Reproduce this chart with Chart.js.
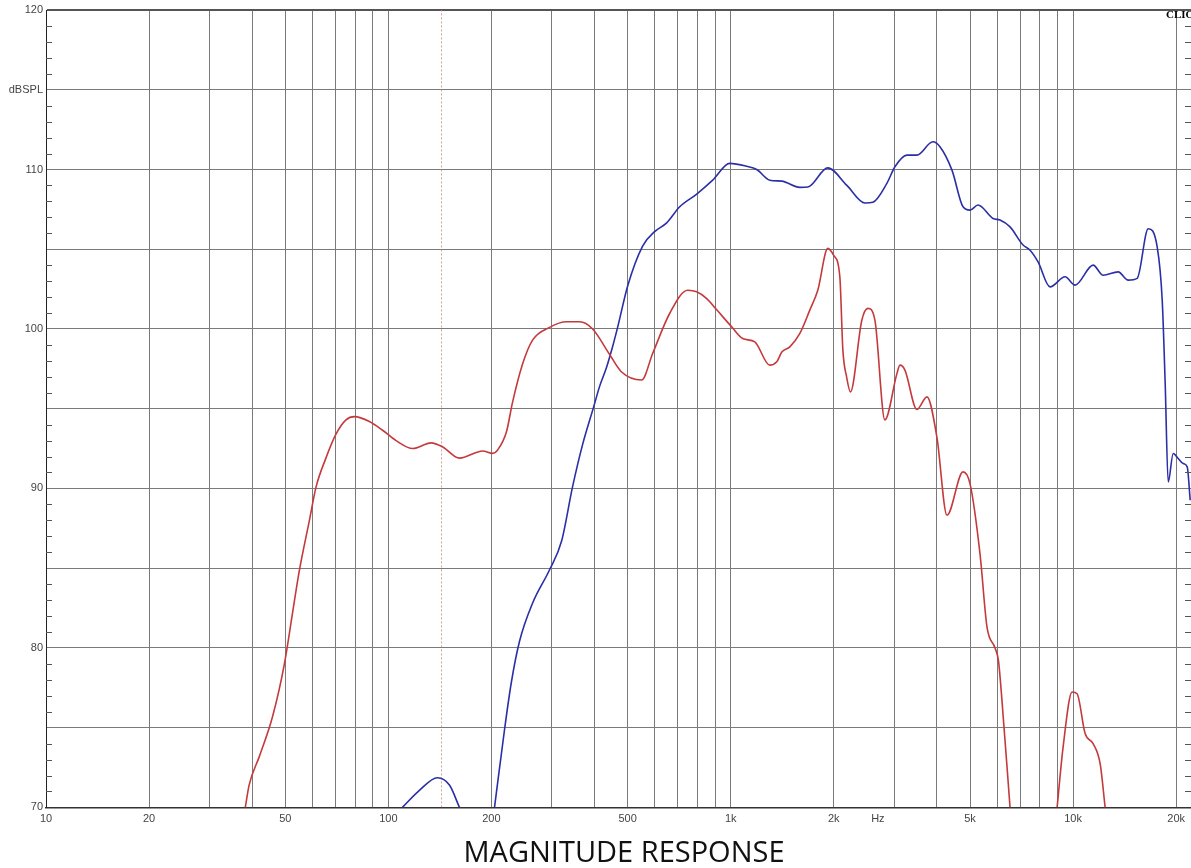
<!DOCTYPE html>
<html>
<head>
<meta charset="utf-8">
<title>Magnitude response</title>
<script src="https://cdn.jsdelivr.net/npm/chart.js@4.4.1/dist/chart.umd.min.js"></script>
<style>
  html, body { margin: 0; padding: 0; background: #fff; }
  #wrap { position: relative; width: 1191px; height: 868px; }
  #caption {
    position: absolute;
    left: 424px;
    width: 400px;
    top: 836px;
    text-align: center;
    font-family: "Open Sans", sans-serif;
    font-size: 29px;
    line-height: 29px;
    color: #111;
    white-space: nowrap;
  }
</style>
</head>
<body>
<div id="wrap">
  <canvas id="response" width="1191" height="868"></canvas>
  <div id="caption">MAGNITUDE RESPONSE</div>
</div>
<script>
// red trace (Hz / dBSPL); null = where it falls below the 70 dB floor
const redFreq = [38.2, 39.2, 42, 45.9, 49.7, 52.5, 54.9, 58.8, 61.5, 65.7, 70.3, 75.2, 79.6, 88, 96.2,
  105.3, 117.8, 133.3, 144.2, 161.3, 188.7, 201.8, 208.3, 221.3, 230.5, 246.6, 263.7, 295.7, 331.5,
  361.9, 395, 442.9, 480.1, 549.3, 591.5, 663.1, 748.7, 795.6, 850.9, 910.2, 1006.8, 1084, 1175.5,
  1300, 1363, 1410, 1488, 1592, 1702, 1796, 1921, 2001, 2083, 2126, 2180, 2237, 2415, 2516, 2637,
  2820, 3058, 3121, 3227, 3499, 3742, 4002, 4282, 4770, 4999, 5347, 5605, 5916, 6053, 6188, 6544,
  7500, 8981, 9350, 9933, 10273, 10842, 11443, 11995, 12406];
const redDb = [70, 71.4, 73.2, 75.7, 79.0, 82.2, 84.8, 88.0, 90.1, 91.9, 93.4, 94.3, 94.5, 94.2, 93.65,
  93.0, 92.5, 92.86, 92.6, 91.9, 92.35, 92.2, 92.4, 93.55, 95.4, 97.8, 99.3, 100.1, 100.45,
  100.45, 100.0, 98.4, 97.3, 96.8, 98.46, 100.97, 102.43, 102.33, 101.9, 101.2, 100.13, 99.4, 99.19,
  97.73, 97.94, 98.56, 98.88, 99.72, 101.18, 102.43, 105.05, 104.6, 103.27, 98.67, 97.0, 96.05, 100.55, 101.29, 100.55,
  94.3, 97.2, 97.73, 97.42, 94.95, 95.74, 93.2, 88.32, 91.04, 90.3, 85.9, 81.3, 80.0, 79.2, 76.9, 70.0,
  null, 70, 73.78, 77.24, 77.13, 74.63, 74.0, 72.74, 70];

// blue trace
const blueFreq = [109.9, 123.2, 139.1, 150.8, 161.3, 180,
  204.2, 218.4, 228.5, 241.5, 263.7, 295.7, 320.6, 345.1, 369.2, 397.6, 414, 433.9, 451.9, 467.3,
  500, 552.9, 599.5, 650, 709.6, 795.6, 886, 993.4, 1114, 1191, 1300, 1410, 1592, 1680, 1921,
  2184, 2466, 2602, 2858, 3017, 3270, 3499, 3895, 4084, 4428, 4770, 4999, 5275, 5836, 6116, 6544,
  7143, 7487, 7902, 8564, 9475, 10134, 11443, 12240, 13540, 14483, 15386, 16574, 17604, 18210,
  18578, 18958, 19606, 20277, 20971, 21544, 21984];
const blueDb = [70, 71.07, 71.86, 71.4, 70, null,
  70, 74.87, 77.8, 80.4, 82.8, 84.9, 86.7, 90.1, 92.75, 95.1, 96.4, 97.6, 98.9, 100.1,
  102.7, 105.2, 106.1, 106.65, 107.66, 108.46, 109.33, 110.38, 110.2, 110.0, 109.33, 109.27, 108.88, 108.9, 110.1,
  109.0, 107.9, 107.95, 109.13, 110.17, 110.9, 110.9, 111.74, 111.43, 109.96, 107.66, 107.45, 107.77, 106.93, 106.83, 106.4,
  105.26, 104.94, 104.2, 102.64, 103.27, 102.75, 104.0, 103.37, 103.58, 103.06, 103.17, 106.28, 105.15, 101.8,
  96.58, 90.4, 92.19, 91.88, 91.56, 91.35, 89.26];

// cursor frequency (dotted marker)
const cursorHz = 143;

// frequency grid and its labels
const xGrid = [10, 20, 30, 40, 50, 60, 70, 80, 90, 100, 200, 300, 400, 500, 600, 700, 800, 900,
  1000, 2000, 3000, 4000, 5000, 6000, 7000, 8000, 9000, 10000, 20000];
const xLabels = { 10: '10', 20: '20', 50: '50', 100: '100', 200: '200', 500: '500',
  1000: '1k', 2000: '2k', 5000: '5k', 10000: '10k', 20000: '20k' };
const hzLabelAt = 2690;

const yLabels = { 120: '120', 115: 'dBSPL', 110: '110', 100: '100', 90: '90', 80: '80', 70: '70' };

const toPoints = (fs, vs) => fs.map((f, i) => ({ x: f, y: vs[i] }));

const gridGray = '#7a7a7a';

// 1 dB ticks on both sides of the plot + the CLIO mark
const plotDecor = {
  id: 'plotDecor',
  afterDraw(chart) {
    const { ctx, chartArea, scales } = chart;
    ctx.save();
    ctx.strokeStyle = '#555';
    ctx.lineWidth = 1;
    for (let v = 71; v < 120; v++) {
      if (v % 5 === 0) continue;
      const y = Math.round(scales.y.getPixelForValue(v)) + 0.5;
      ctx.beginPath();
      ctx.moveTo(chartArea.left, y);
      ctx.lineTo(chartArea.left + 6, y);
      ctx.moveTo(chartArea.right - 6, y);
      ctx.lineTo(chartArea.right, y);
      ctx.stroke();
    }
    ctx.fillStyle = '#000';
    ctx.font = 'bold 11px "Liberation Serif"';
    ctx.textBaseline = 'middle';
    ctx.fillText('CLIO', chartArea.right - 25, chartArea.top + 5);
    ctx.restore();
  }
};

new Chart(document.getElementById('response'), {
  type: 'line',
  data: {
    datasets: [
      {
        data: toPoints(redFreq, redDb),
        borderColor: '#c43a3c',
        borderWidth: 1.6,
        pointRadius: 0,
        cubicInterpolationMode: 'monotone',
        spanGaps: false,
        order: 1
      },
      {
        data: toPoints(blueFreq, blueDb),
        borderColor: '#2b2fa6',
        borderWidth: 1.6,
        pointRadius: 0,
        cubicInterpolationMode: 'monotone',
        spanGaps: false,
        order: 2
      },
      {
        data: [{ x: cursorHz, y: 70 }, { x: cursorHz, y: 120 }],
        borderColor: 'rgba(210,130,130,0.8)',
        borderWidth: 1,
        borderDash: [2, 2],
        pointRadius: 0,
        order: 3
      }
    ]
  },
  options: {
    responsive: false,
    animation: false,
    // bottom padding leaves room for the caption under the plot
    layout: { padding: { top: 10, right: 0, left: 0, bottom: 35.6 } },
    plugins: {
      legend: { display: false },
      tooltip: { enabled: false }
    },
    scales: {
      x: {
        type: 'logarithmic',
        min: 10,
        max: 22100,
        afterBuildTicks: s => {
          s.ticks = xGrid.concat([hzLabelAt]).sort((a, b) => a - b).map(v => ({ value: v }));
        },
        afterFit: s => { s.height = 25; },
        ticks: {
          autoSkip: false,
          maxRotation: 0,
          padding: 5,
          color: '#444',
          font: { family: '"Liberation Sans"', size: 11 },
          callback: v => (v === hzLabelAt ? 'Hz' : (xLabels[v] || ''))
        },
        grid: {
          drawTicks: false,
          lineWidth: 1,
          color: c => (c.tick && c.tick.value === hzLabelAt ? 'rgba(0,0,0,0)' : gridGray)
        },
        border: { color: '#333', width: 1.5 }
      },
      y: {
        min: 70,
        max: 120,
        afterFit: s => { s.width = 46; },
        ticks: {
          stepSize: 5,
          padding: 3,
          color: '#444',
          font: { family: '"Liberation Sans"', size: 11 },
          callback: v => yLabels[v] || ''
        },
        grid: {
          drawTicks: false,
          lineWidth: c => (c.tick && c.tick.value === 120 ? 2 : 1),
          color: c => (c.tick && c.tick.value === 120 ? '#555' : gridGray)
        },
        border: { color: '#222', width: 1 }
      }
    }
  },
  plugins: [plotDecor]
});
</script>
</body>
</html>
